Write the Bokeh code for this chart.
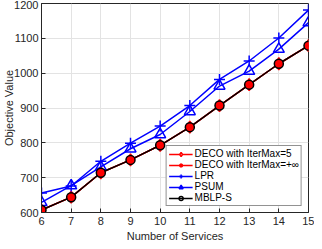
from bokeh.plotting import figure
from bokeh.models import Range1d, FixedTicker, Legend, LegendItem, Title
from bokeh.embed import file_html
from bokeh.resources import INLINE

services = [6, 7, 8, 9, 10, 11, 12, 13, 14, 15]
lpr = [656, 676, 747, 799, 848, 907, 982, 1035, 1101, 1181]
psum = [629, 677, 731, 783, 824, 890, 963, 1006, 1069, 1145]
mblps = [607, 644, 714, 751, 793, 845, 907, 967, 1027, 1079]
deco5 = [607, 644, 714, 751, 793, 845, 907, 967, 1027, 1079]
decoinf = [607, 644, 714, 751, 793, 845, 907, 967, 1027, 1079]
x_ticks = [6, 7, 8, 9, 10, 11, 12, 13, 14, 15]
y_ticks = [600, 700, 800, 900, 1000, 1100, 1200]

FONT = "Liberation Sans"
DARK = "#262626"

p = figure(width=314, height=241, output_backend="svg", toolbar_location=None,
           x_range=Range1d(6, 15), y_range=Range1d(600, 1200),
           min_border_left=0, min_border_right=6, min_border_top=3, min_border_bottom=0)
p.background_fill_color = "white"
p.border_fill_color = "white"
p.outline_line_color = DARK
p.outline_line_width = 1
p.outline_line_alpha = 1

for ax in (p.xaxis[0], p.yaxis[0]):
    ax.axis_line_color = DARK
    ax.major_tick_line_color = DARK
    ax.major_tick_in = 4
    ax.major_tick_out = 0
    ax.minor_tick_line_color = None
    ax.major_label_text_font = FONT
    ax.major_label_text_font_size = "11px"
    ax.major_label_text_color = DARK
    ax.axis_label_text_font = FONT
    ax.axis_label_text_font_size = "11px"
    ax.axis_label_text_font_style = "normal"
    ax.axis_label_text_color = DARK

p.xaxis[0].ticker = FixedTicker(ticks=x_ticks)
p.yaxis[0].ticker = FixedTicker(ticks=y_ticks)
p.yaxis[0].axis_label = "Objective Value"
p.xaxis[0].major_label_standoff = 4
p.yaxis[0].major_label_standoff = 3
p.yaxis[0].axis_label_standoff = -4

xtitle = Title(text="Number of Services", align="center", text_font=FONT,
               text_font_size="11px", text_font_style="normal", text_color=DARK,
               standoff=0, offset=0)
p.add_layout(xtitle, "below")

p.grid.grid_line_color = "#e3e3e3"
p.grid.grid_line_width = 1

# DECO lines
l5 = p.line(services, deco5, line_color="red", line_width=1.5)
m5 = p.scatter(services, deco5, marker="diamond", size=12, line_color="red",
               fill_color="white", line_width=1.5)
linf = p.line(services, decoinf, line_color="red", line_width=1.5)
minf = p.scatter(services, decoinf, marker="asterisk", size=8, line_color="red",
                 line_width=1.5)
# LPR
llpr = p.line(services, lpr, line_color="blue", line_width=1.5)
mlpr = p.scatter(services, lpr, marker="cross", size=11, line_color="blue", line_width=1.5)
# PSUM
lps = p.line(services, psum, line_color="blue", line_width=1.5)
mps = p.scatter(services, psum, marker="triangle", size=11, line_color="blue",
                fill_color=None, line_width=1.5)
# MBLP-S
lmb = p.line(services, mblps, line_color="black", line_width=1.5)
fill = p.scatter(services, mblps, marker="circle", size=8, line_color=None, fill_color="red")
p.scatter(services, deco5, marker="asterisk", size=8, line_color="red", line_width=1.5)
mmb = p.scatter(services, mblps, marker="circle", size=9, line_color="black",
                fill_color=None, line_width=1.5)

legend = Legend(items=[
    LegendItem(label="DECO with IterMax=5", renderers=[l5, m5]),
    LegendItem(label="DECO with IterMax=+∞", renderers=[linf, minf]),
    LegendItem(label="LPR", renderers=[llpr, mlpr]),
    LegendItem(label="PSUM", renderers=[lps, mps]),
    LegendItem(label="MBLP-S", renderers=[lmb, mmb]),
], location="bottom_right")
legend.label_text_font = FONT
legend.label_text_font_size = "10px"
legend.label_text_color = "black"
legend.label_height = 10
legend.glyph_height = 10
legend.glyph_width = 24
legend.label_standoff = 2
legend.spacing = -3
legend.padding = 2
legend.margin = 6
legend.border_line_color = DARK
legend.border_line_width = 1
legend.background_fill_alpha = 1
p.add_layout(legend)

open("out.html", "w").write(file_html(p, INLINE))
